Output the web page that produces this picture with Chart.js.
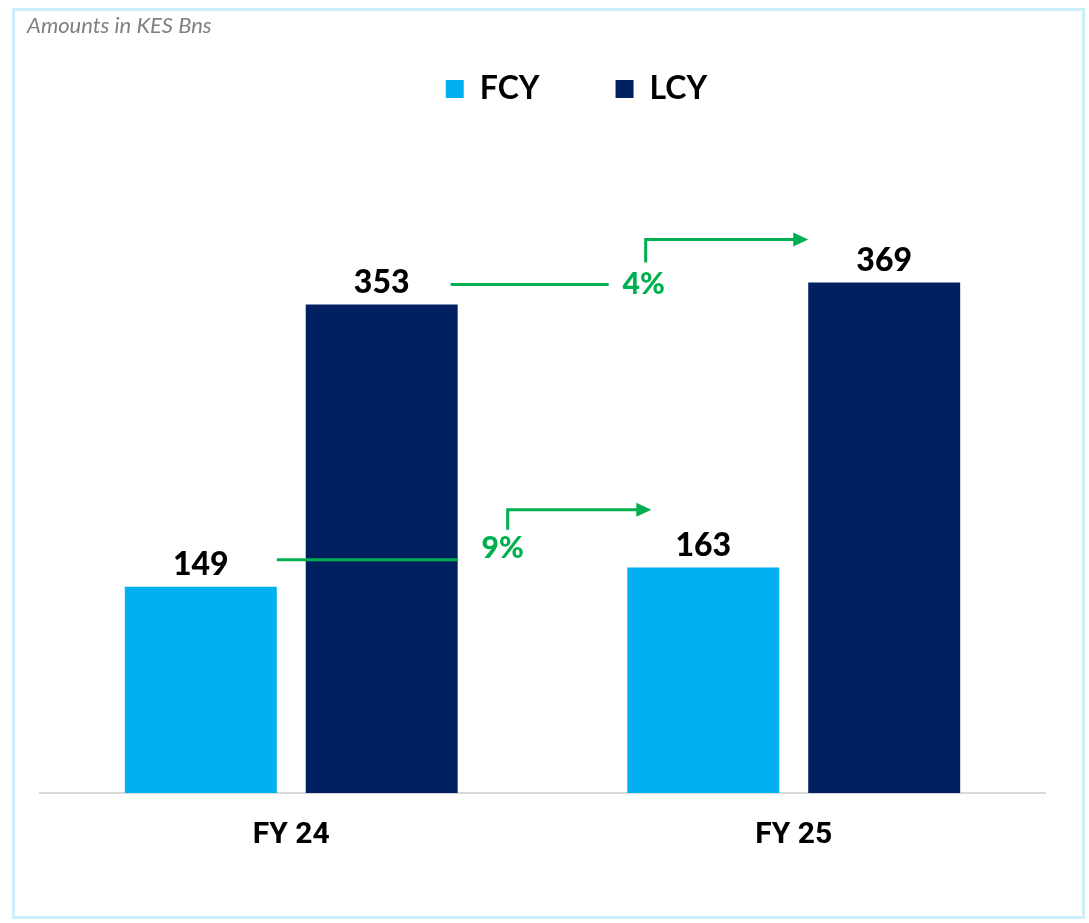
<!DOCTYPE html>
<html>
<head>
<meta charset="utf-8">
<title>FCY vs LCY</title>
<script src="https://cdn.jsdelivr.net/npm/chart.js@4.4.1/dist/chart.umd.min.js"></script>
<style>
    html, body { margin: 0; padding: 0; background: #ffffff; }
    #wrap { position: relative; width: 1089px; height: 923px; }
</style>
</head>
<body>
<div id="wrap"><canvas id="depositsGraph" width="1089" height="923"></canvas></div>
<script>
var categories = ["FY 24", "FY 25"];
var fcyValues = [149, 163];
var lcyValues = [353, 369];
var fcyGrowth = "9%";
var lcyGrowth = "4%";
var unitNote = "Amounts in KES Bns";

var fcyColor = "#00B0F0";
var lcyColor = "#002060";
var arrowColor = "#00B050";

// frame + unit note
var framePlugin = {
    id: "framePlugin",
    afterLayout: (chart) => {
        // legend sits centred on the frame, not on the plot
        chart.legend.left += 34;
        chart.legend.right += 34;
    },
    beforeDraw: (chart) => {
        var ctx = chart.ctx;
        ctx.save();
        ctx.fillStyle = "#ffffff";
        ctx.fillRect(0, 0, chart.width, chart.height);
        ctx.strokeStyle = "#cdeefb";
        ctx.lineWidth = 3;
        ctx.strokeRect(13.5, 9.5, 1070, 908);
        ctx.fillStyle = "#808080";
        ctx.font = "italic 22px Lato, 'Open Sans', sans-serif";
        ctx.textAlign = "left";
        ctx.textBaseline = "middle";
        ctx.fillText(unitNote, 27, 26);
        ctx.restore();
    },
};

function bar_box(chart, dataset, index) {
    var bar = chart.getDatasetMeta(dataset).data[index];
    return { left: bar.x - bar.width / 2, right: bar.x + bar.width / 2, top: bar.y, x: bar.x };
}

function draw_arrow_head(ctx, x, y) {
    ctx.beginPath();
    ctx.moveTo(x, y);
    ctx.lineTo(x - 15, y - 7);
    ctx.lineTo(x - 15, y + 7);
    ctx.closePath();
    ctx.fill();
}

// value labels above bars and growth connectors
var labelPlugin = {
    id: "labelPlugin",
    afterDatasetsDraw: (chart) => {
        var ctx = chart.ctx;
        ctx.save();
        ctx.fillStyle = "#000000";
        ctx.font = "900 32px Lato, 'Open Sans', sans-serif";
        ctx.textAlign = "center";
        ctx.textBaseline = "middle";
        chart.data.datasets.forEach((ds, i) => {
            chart.getDatasetMeta(i).data.forEach((bar, j) => {
                ctx.fillText(ds.data[j], bar.x, bar.y - 22);
            });
        });

        ctx.strokeStyle = arrowColor;
        ctx.fillStyle = arrowColor;
        ctx.lineWidth = 3;
        ctx.font = "900 30px Lato, 'Open Sans', sans-serif";

        // FCY connector
        var f0 = bar_box(chart, 0, 0);
        var l0 = bar_box(chart, 1, 0);
        var f1 = bar_box(chart, 0, 1);
        var y0 = f0.top - 27;
        var txtX = l0.right + 45;
        var txtY = y0 - 12;
        var y1 = Math.min(f1.top - 27, txtY - 38);
        ctx.beginPath();
        ctx.moveTo(f0.right, y0);
        ctx.lineTo(l0.right, y0);
        ctx.moveTo(txtX + 5, txtY - 18);
        ctx.lineTo(txtX + 5, y1);
        ctx.lineTo(f1.left + 10, y1);
        ctx.stroke();
        draw_arrow_head(ctx, f1.left + 24, y1);
        ctx.fillText(fcyGrowth, txtX, txtY);

        // LCY connector
        var l1 = bar_box(chart, 1, 1);
        var z0 = l0.top - 20;
        var z1 = Math.min(l1.top - 27, z0 - 45);
        var lx0 = l0.right - 7;
        var lx1 = lx0 + 158;
        ctx.beginPath();
        ctx.moveTo(lx0, z0);
        ctx.lineTo(lx1, z0);
        ctx.moveTo(lx1 + 37, z0 - 22);
        ctx.lineTo(lx1 + 37, z1);
        ctx.lineTo(l1.left - 12, z1);
        ctx.stroke();
        draw_arrow_head(ctx, l1.left, z1);
        ctx.fillText(lcyGrowth, lx1 + 35, z0);
        ctx.restore();
    },
};

var depositsGraph = new Chart("depositsGraph", {
    type: "bar",
    data: {
        labels: categories,
        datasets: [
            { label: "FCY", data: fcyValues, backgroundColor: fcyColor },
            { label: "LCY", data: lcyValues, backgroundColor: lcyColor },
        ],
    },
    options: {
        responsive: false,
        animation: false,
        layout: {
            padding: { top: -3, left: 40, right: 44, bottom: 54 },
        },
        datasets: {
            bar: { categoryPercentage: 0.72, barPercentage: 0.84 },
        },
        plugins: {
            legend: {
                position: "top",
                align: "center",
                labels: {
                    boxWidth: 18,
                    boxHeight: 18,
                    padding: 76,
                    color: "#000000",
                    font: { family: "Lato, 'Open Sans', sans-serif", size: 32, weight: "bold" },
                },
            },
            tooltip: { enabled: false },
        },
        scales: {
            x: {
                grid: { display: false },
                border: { display: true, color: "#d9d9d9", width: 2 },
                ticks: {
                    padding: 16,
                    color: "#000000",
                    font: { family: "'Liberation Sans Narrow', Roboto, sans-serif", size: 30, weight: "bold" },
                },
            },
            y: {
                display: false,
                min: 0,
                max: 490,
            },
        },
    },
    plugins: [framePlugin, labelPlugin],
});
</script>
</body>
</html>
